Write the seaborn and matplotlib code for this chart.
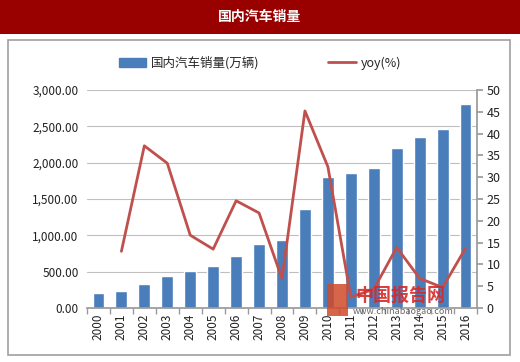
import numpy as np
import pandas as pd
import seaborn as sns
import matplotlib.pyplot as plt
from matplotlib.patches import Rectangle
from matplotlib.lines import Line2D
from matplotlib.ticker import FuncFormatter

years = [str(y) for y in range(2000, 2017)]
sales = [208, 237, 325, 439, 507, 576, 722, 879, 938, 1364,
         1806, 1851, 1931, 2199, 2349, 2460, 2803]
yoy = [np.nan, 13.0, 37.2, 33.2, 16.7, 13.5, 24.6, 21.8, 6.7, 45.2,
       32.4, 2.5, 4.3, 13.9, 6.8, 4.7, 13.7]

bar_color = "#4a7ebb"
line_color = "#c0504d"

sns.set_theme(style="white")
plt.rcParams["font.family"] = ["Noto Sans CJK SC", "DejaVu Sans"]

df = pd.DataFrame({"year": years, "sales": sales, "yoy": yoy})
df["pos"] = np.arange(len(df))

fig = plt.figure(figsize=(5.2, 3.62), dpi=100)

# red title banner
fig.patches.append(Rectangle((0, 1 - 34 / 362), 1, 34 / 362, transform=fig.transFigure,
                             facecolor="#990000", edgecolor="none", zorder=-10))
fig.text(0.5, 1 - 17 / 362, "国内汽车销量", color="white", fontsize=10,
         fontweight="bold", ha="center", va="center")
# chart frame
fig.patches.append(Rectangle((8 / 520, 1 - 355 / 362), 502 / 520, 315 / 362,
                             transform=fig.transFigure, facecolor="white",
                             edgecolor="#a0a0a0", linewidth=1.2, zorder=-10))

ax = fig.add_axes([87 / 520, 1 - 308 / 362, 390 / 520, 218 / 362])
ax.patch.set_alpha(0)
sns.barplot(data=df, x="year", y="sales", color=bar_color, width=0.52,
            saturation=1, ax=ax, zorder=2)
ax.set_ylim(0, 3000)
ax.set_yticks(np.arange(0, 3001, 500))
ax.yaxis.set_major_formatter(FuncFormatter(lambda v, p: f"{v:,.2f}"))
ax.grid(axis="y", color="#bfbfbf", linewidth=0.8)
ax.set_axisbelow(True)
ax.set_xlabel("")
ax.set_ylabel("")
ax.set_xlim(-0.5, len(years) - 0.5)
for s in ["top", "right", "left"]:
    ax.spines[s].set_visible(False)
ax.spines["bottom"].set_color("#9a9a9a")
ax.tick_params(axis="x", rotation=90, labelsize=8.5, length=0, pad=4, labelcolor="#222222")
ax.tick_params(axis="y", labelsize=8.5, length=0, pad=6, labelcolor="#222222")
# category separator ticks
ax.set_xticks(np.arange(-0.5, len(years)), minor=True)
ax.tick_params(axis="x", which="minor", length=4, color="#9a9a9a", bottom=True)

ax2 = ax.twinx()
sns.lineplot(data=df, x="pos", y="yoy", color=line_color, linewidth=2, ax=ax2)
ax2.set_ylim(0, 50)
ax2.set_yticks(np.arange(0, 51, 5))
ax2.set_ylabel("")
ax2.set_xlabel("")
ax2.set_xlim(-0.5, len(years) - 0.5)
for s in ["top", "left", "bottom"]:
    ax2.spines[s].set_visible(False)
ax2.spines["right"].set_color("#9a9a9a")
ax2.tick_params(axis="y", labelsize=9, length=4, color="#9a9a9a", right=True, pad=3,
                labelcolor="#222222")

handles = [Rectangle((0, 0), 1, 1, color=bar_color),
           Line2D([0], [0], color=line_color, linewidth=2)]
fig.legend(handles, ["国内汽车销量(万辆)", "yoy(%)"], loc="center",
           bbox_to_anchor=(0.5, 1 - 63 / 362), ncol=2, frameon=False,
           fontsize=9, handlelength=2.2, columnspacing=5.5, handletextpad=0.4)

# watermark
fig.patches.append(Rectangle((327 / 520, 1 - 316 / 362), 21 / 520, 32 / 362,
                             transform=fig.transFigure, facecolor="#d04a2a",
                             edgecolor="none", alpha=0.85, zorder=5))
fig.text(355 / 520, 1 - 295 / 362, "中国报告网", color="#d42a2a", fontsize=13,
         fontweight="bold", ha="left", va="center", alpha=0.9, zorder=6)
fig.text(353 / 520, 1 - 312 / 362, "www.chinabaogao.com", color="#555555", fontsize=6.5,
         ha="left", va="center", alpha=0.9, zorder=6)

fig.savefig("out.png", dpi=100)
